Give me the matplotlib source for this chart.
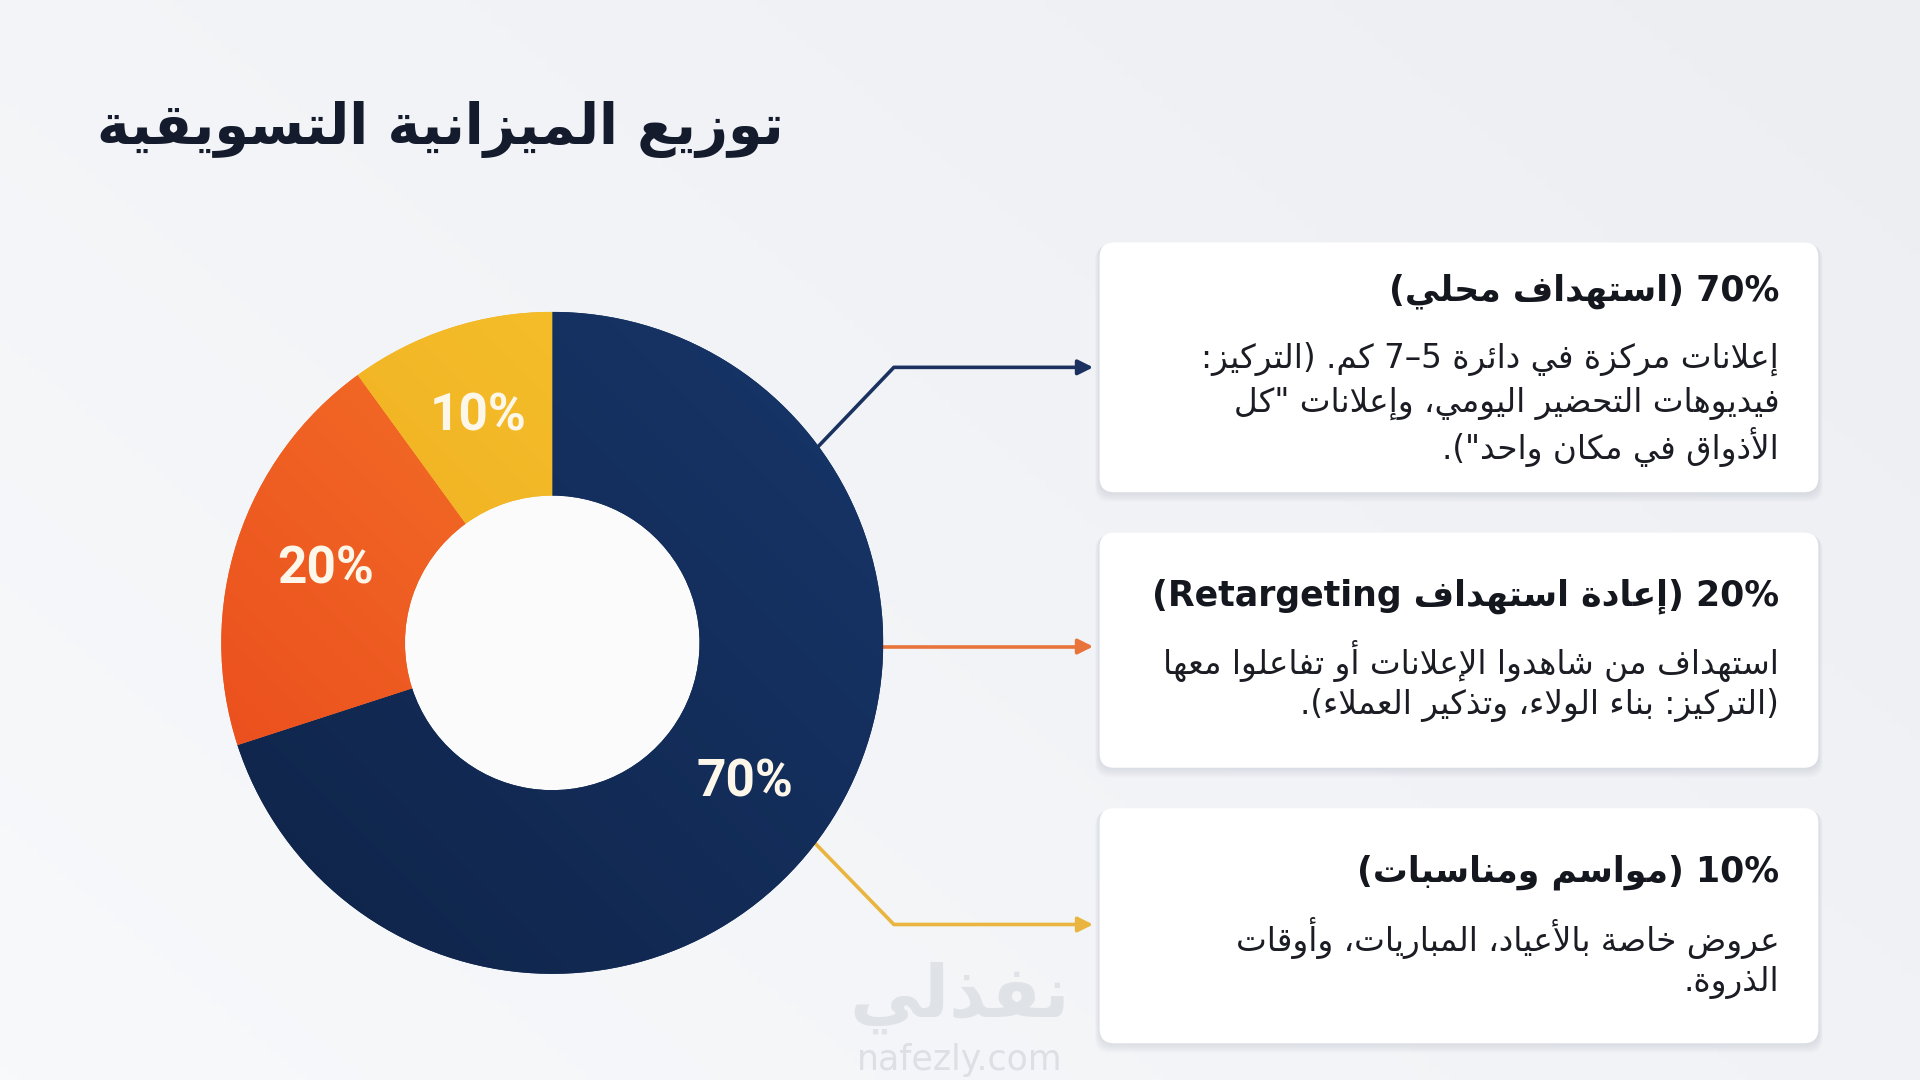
import re
import numpy as np
import matplotlib
matplotlib.use('Agg')
import matplotlib.pyplot as plt
from matplotlib.patches import FancyBboxPatch, Circle
from matplotlib.colors import LinearSegmentedColormap

# reference drawn on a 1568 x 882 grid, scaled to the 1920 x 1080 output
W, H = 1568, 882

# data
title = 'توزيع الميزانية التسويقية'
shares = [70, 20, 10]
share_colors = ['#15305c', '#f0621f', '#f3b324']
grad_colors = [('#0f2347', '#17366a'), ('#e9461b', '#f7802c'), ('#eea31d', '#f6c62d')]
headers = ['70% (استهداف محلي)',
           '20% (إعادة استهداف Retargeting)',
           '10% (مواسم ومناسبات)']
bodies = [['إعلانات مركزة في دائرة 5–7 كم. (التركيز:',
           'فيديوهات التحضير اليومي، وإعلانات "كل',
           'الأذواق في مكان واحد").'],
          ['استهداف من شاهدوا الإعلانات أو تفاعلوا معها',
           '(التركيز: بناء الولاء، وتذكير العملاء).'],
          ['عروض خاصة بالأعياد، المباريات، وأوقات',
           'الذروة.']]
line_colors = ['#1b3260', '#e8743c', '#e9b540']

# --- minimal arabic shaping + rtl ordering (no reshaper libs available) ---
FOUR = {'ئ': 0xFE89, 'ب': 0xFE8F, 'ت': 0xFE95, 'ث': 0xFE99, 'ج': 0xFE9D, 'ح': 0xFEA1,
        'خ': 0xFEA5, 'س': 0xFEB1, 'ش': 0xFEB5, 'ص': 0xFEB9, 'ض': 0xFEBD, 'ط': 0xFEC1,
        'ظ': 0xFEC5, 'ع': 0xFEC9, 'غ': 0xFECD, 'ف': 0xFED1, 'ق': 0xFED5, 'ك': 0xFED9,
        'ل': 0xFEDD, 'م': 0xFEE1, 'ن': 0xFEE5, 'ه': 0xFEE9, 'ي': 0xFEF1}
TWO = {'آ': 0xFE81, 'أ': 0xFE83, 'ؤ': 0xFE85, 'إ': 0xFE87, 'ا': 0xFE8D, 'ة': 0xFE93,
       'د': 0xFEA9, 'ذ': 0xFEAB, 'ر': 0xFEAD, 'ز': 0xFEAF, 'و': 0xFEED, 'ى': 0xFEEF}
ONE = {'ء': 0xFE80}
LAMALEF = {'آ': 0xFEF5, 'أ': 0xFEF7, 'إ': 0xFEF9, 'ا': 0xFEFB}
MIRROR = {'(': ')', ')': '('}


def is_ar(c):
    return c in FOUR or c in TWO or c in ONE


def shape(s):
    out = []
    i = 0
    while i < len(s):
        c = s[i]
        if not is_ar(c):
            out.append(c)
            i += 1
            continue
        prev_joins = i > 0 and s[i - 1] in FOUR
        if c == 'ل' and i + 1 < len(s) and s[i + 1] in LAMALEF:
            out.append(chr(LAMALEF[s[i + 1]] + (1 if prev_joins else 0)))
            i += 2
            continue
        next_joins = c in FOUR and i + 1 < len(s) and is_ar(s[i + 1])
        if c in FOUR:
            base = FOUR[c]
            off = 3 if (prev_joins and next_joins) else 1 if prev_joins else 2 if next_joins else 0
        elif c in TWO:
            base = TWO[c]
            off = 1 if prev_joins else 0
        else:
            base, off = ONE[c], 0
        out.append(chr(base + off))
        i += 1
    return ''.join(out)


def rtl(s):
    parts = re.split(r'([A-Za-z0-9%]+)', shape(s))
    vis = []
    for p in parts:
        if re.fullmatch(r'[A-Za-z0-9%]+', p):
            vis.append(p)
        else:
            vis.append(''.join(MIRROR.get(ch, ch) for ch in reversed(p)))
    return ''.join(reversed(vis))


plt.rcParams['font.family'] = ['DejaVu Sans']

fig = plt.figure(figsize=(19.2, 10.8), dpi=100)
ax = fig.add_axes([0, 0, 1, 1])
ax.set_xlim(0, W)
ax.set_ylim(H, 0)
ax.axis('off')

# soft background
yy, xx = np.mgrid[0:1:200j, 0:1:200j]
bg = 0.6 * xx + 0.4 * (1 - yy)
bg_cmap = LinearSegmentedColormap.from_list('bg', ['#f8f9fb', '#eceef2'])
ax.imshow(bg, extent=[0, W, H, 0], cmap=bg_cmap, aspect='auto', zorder=0)

ax.text(640, 106, rtl(title), ha='right', va='center', fontsize=40,
        fontweight='bold', color='#141b2d', zorder=5)

# donut
cx, cy, R = 451, 525, 273
dax = fig.add_axes([(cx - R) / W, 1 - (cy + R) / H, 2 * R / W, 2 * R / H])
hole = 1 - 0.555
dax.add_patch(Circle((0, 0), hole, facecolor='#fbfbfc', lw=0, zorder=0))
wedges, _, pcts = dax.pie(shares, colors=share_colors, startangle=90, counterclock=False,
                          radius=1, wedgeprops=dict(width=0.555, linewidth=0),
                          autopct='%d%%', pctdistance=0.72,
                          textprops=dict(color='#fdf7ea', fontsize=37, fontweight='bold',
                                         family='Roboto'))
dax.set_xlim(-1.01, 1.01)
dax.set_ylim(-1.01, 1.01)
dax.set_aspect('equal')
dax.axis('off')

gy, gx = np.mgrid[1:-1:300j, -1:1:300j]
for w, (c0, c1) in zip(wedges, grad_colors):
    t = (gx + gy) / 2
    cm = LinearSegmentedColormap.from_list('g', [c0, c1])
    im = dax.imshow(t, extent=[-1, 1, -1, 1], cmap=cm, zorder=1, origin='upper')
    im.set_clip_path(w)
for p in pcts:
    p.set_zorder(3)

# connector lines
for pts, col in zip(
        [[(665, 368), (730, 300), (895, 300)],
         [(712, 528), (895, 528)],
         [(665, 688), (730, 755), (895, 755)]], line_colors):
    xs, ys = zip(*pts)
    ax.plot(xs[:-1] + (xs[-1] - 8,), ys, color=col, lw=2.6, zorder=4, solid_capstyle='butt')
    ax.annotate('', xy=pts[-1], xytext=(pts[-1][0] - 12, pts[-1][1]),
                arrowprops=dict(arrowstyle='-|>,head_length=0.9,head_width=0.45',
                                color=col, lw=2.6), zorder=4)

# cards
cards = [(898, 198, 402), (898, 435, 627), (898, 660, 852)]
head_off = [40, 52, 52]
body_off = [95, 105, 106]
for (x0, y0, y1), head, body, ho, bo in zip(cards, headers, bodies, head_off, body_off):
    for s in range(6, 0, -1):
        ax.add_patch(FancyBboxPatch((x0 - s * 0.6, y0 + s * 0.4), 587 + s * 1.2, y1 - y0 + s * 0.9,
                                    boxstyle='round,pad=0,rounding_size=12',
                                    facecolor='#8a94a6', alpha=0.035, lw=0, zorder=2))
    ax.add_patch(FancyBboxPatch((x0, y0), 587, y1 - y0,
                                boxstyle='round,pad=0,rounding_size=12',
                                facecolor='white', lw=0, zorder=3))
    ax.text(1453, y0 + ho, rtl(head), ha='right', va='center', fontsize=25,
            fontweight='bold', color='#15171f', zorder=5)
    for j, line in enumerate(body):
        ax.text(1453, y0 + bo + j * 36, rtl(line), ha='right', va='center',
                fontsize=23.5, color='#1c1d24', zorder=5)

# watermark
ax.text(784, 815, rtl('نفذلي'), ha='center', va='center', fontsize=52,
        fontweight='bold', color='#dfe2e6', zorder=1)
ax.text(784, 866, 'nafezly.com', ha='center', va='center', fontsize=25,
        color='#dcdfe3', zorder=1)

fig.savefig('out.png', dpi=100)
